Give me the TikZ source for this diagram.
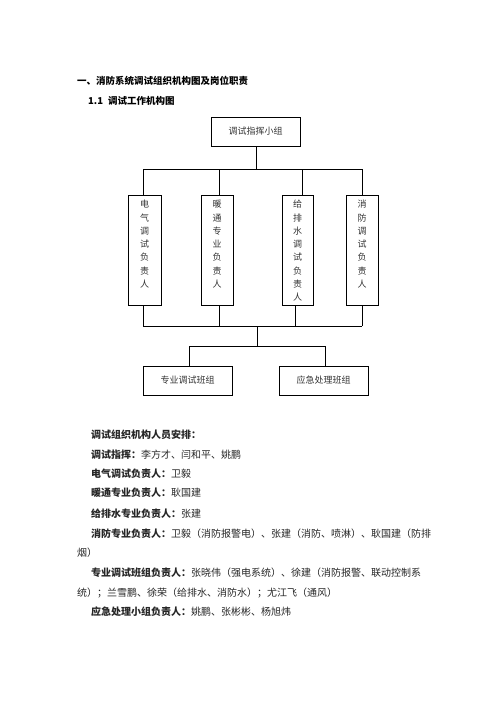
\documentclass[tikz,border=0pt]{standalone}
\usepackage{fontspec}
\newfontfamily\cjk{Noto Sans CJK SC}
\begin{document}
\begin{tikzpicture}[x=1pt,y=-1pt,
  box/.style={draw,line width=0.7pt,inner sep=0pt,font=\cjk\fontsize{9}{11}\selectfont,text=black!80},
  vbox/.style={draw,line width=0.7pt,inner sep=0pt,minimum height=110pt},
  vtext/.style={anchor=north,inner sep=0pt,align=center,font=\cjk\fontsize{9}{13.3}\selectfont,text=black!80},
  ln/.style={line width=0.7pt},
  para/.style={anchor=west,inner sep=0pt,font=\cjk\fontsize{10}{12}\selectfont,text=black!85}]
\useasboundingbox (0,0) rectangle (500,707);
\node[anchor=west,inner sep=0pt,font=\cjk\bfseries\fontsize{9.5}{11}\selectfont] (h1) at (77,81) {一、消防系统调试组织机构图及岗位职责};
\node[anchor=west,inner sep=0pt,font=\cjk\bfseries\fontsize{9.5}{11}\selectfont] (h2) at (88,101) {1.1\hspace{5pt}调试工作机构图};
% top box
\node[box,minimum width=89pt,minimum height=29pt] (top) at (255.5,131.5) {调试指挥小组};
% vertical boxes
\node[vbox,minimum width=33pt] (e1) at (144.5,250) {};
\node[vbox,minimum width=32pt] (e2) at (217,250) {};
\node[vbox,minimum width=31pt] (e3) at (297.5,250) {};
\node[vbox,minimum width=32pt] (e4) at (362,250) {};
\node[vtext] (t1) at (144.5,200) {电\\气\\调\\试\\负\\责\\人};
\node[vtext] (t2) at (217,200) {暖\\通\\专\\业\\负\\责\\人};
\node[vtext] (t3) at (297.5,200) {给\\排\\水\\调\\试\\负\\责\\人};
\node[vtext] (t4) at (362,200) {消\\防\\调\\试\\负\\责\\人};
% upper bus
\coordinate (u0) at (256.5,169);
\coordinate (u1) at (143,169);
\coordinate (u2) at (219,169);
\coordinate (u3) at (302,169);
\coordinate (u4) at (362,169);
\draw[ln] (top.south -| u0) -- (u0);
\draw[ln] (u1) -- (u4);
\draw[ln] (u1) -- (u1 |- e1.north);
\draw[ln] (u2) -- (u2 |- e2.north);
\draw[ln] (u3) -- (u3 |- e3.north);
\draw[ln] (u4) -- (u4 |- e4.north);
% lower bus
\coordinate (d1) at (143,326);
\coordinate (d2) at (219,326);
\coordinate (d3) at (295,326);
\coordinate (d4) at (362,326);
\coordinate (d0) at (257,326);
\coordinate (m0) at (257,346);
\coordinate (m1) at (189,346);
\coordinate (m2) at (325,346);
\draw[ln] (d1 |- e1.south) -- (d1);
\draw[ln] (d2 |- e2.south) -- (d2);
\draw[ln] (d3 |- e3.south) -- (d3);
\draw[ln] (d4 |- e4.south) -- (d4);
\draw[ln] (d1) -- (d4);
\draw[ln] (d0) -- (m0);
\draw[ln] (m1) -- (m2);
\node[box,minimum width=89pt,minimum height=29pt] (ba) at (187.5,380.5) {专业调试班组};
\node[box,minimum width=89pt,minimum height=29pt] (bb) at (323.5,380.5) {应急处理班组};
\draw[ln] (m1) -- (m1 |- ba.north);
\draw[ln] (m2) -- (m2 |- bb.north);
% text
\node[para] (p1) at (91,435) {\bfseries 调试组织机构人员安排：};
\node[para] (p2) at (91,455) {{\bfseries 调试指挥：}李方才、闫和平、姚鹏};
\node[para] (p3) at (91,474) {{\bfseries 电气调试负责人：}卫毅};
\node[para] (p4) at (91,493) {{\bfseries 暖通专业负责人：}耿国建};
\node[para] (p5) at (91,514) {{\bfseries 给排水专业负责人：}张建};
\node[para] (p6) at (91,534) {{\bfseries 消防专业负责人：}卫毅（消防报警电）、张建（消防、喷淋）、耿国建（防排};
\node[para] (p7) at (77,553) {烟）};
\node[para] (p8) at (91,573) {{\bfseries 专业调试班组负责人：}张晓伟（强电系统）、徐建（消防报警、联动控制系};
\node[para] (p9) at (77,593) {统）；兰雪鹏、徐荣（给排水、消防水）；尤江飞（通风）};
\node[para] (p10) at (91,612) {{\bfseries 应急处理小组负责人：}姚鹏、张彬彬、杨旭炜};
\end{tikzpicture}
\end{document}
